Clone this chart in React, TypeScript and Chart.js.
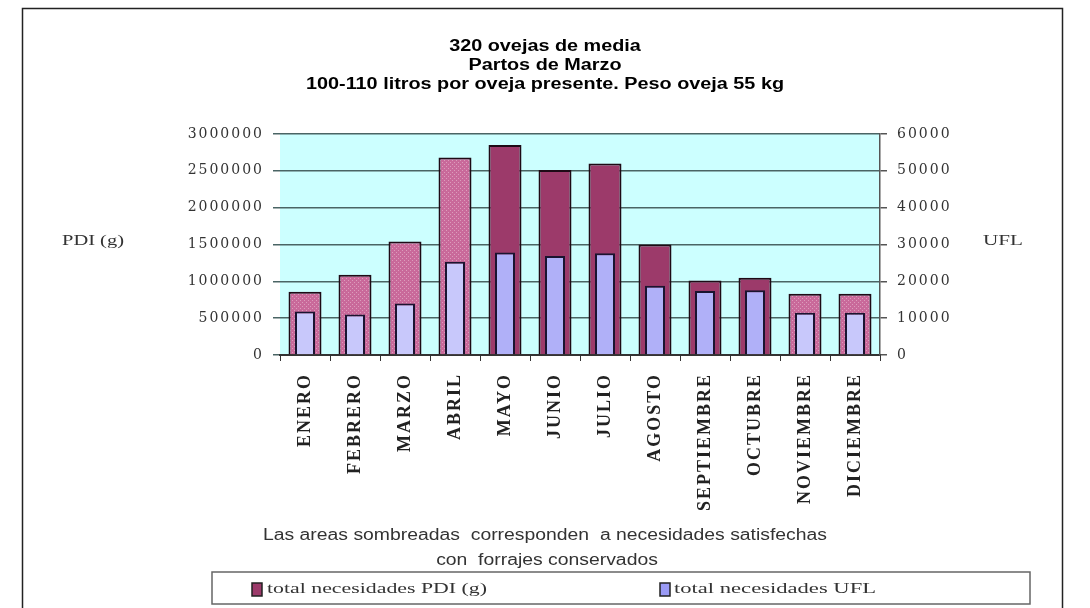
import React, { useEffect, useRef } from "react";
import { Chart, registerables } from "chart.js";

Chart.register(...registerables);

// ---- data ----
const months = [
  "ENERO", "FEBRERO", "MARZO", "ABRIL", "MAYO", "JUNIO",
  "JULIO", "AGOSTO", "SEPTIEMBRE", "OCTUBRE", "NOVIEMBRE", "DICIEMBRE",
];
const pdiValues = [860000, 1090000, 1540000, 2680000, 2850000, 2510000, 2600000, 1500000, 1010000, 1050000, 830000, 830000];
const uflValues = [11800, 11000, 14000, 25300, 27800, 26900, 27600, 18800, 17400, 17600, 11500, 11500];
// months whose needs are covered with conserved forage (shaded areas)
const shadedMonths = [true, true, true, true, false, false, false, false, false, false, true, true];

const titleLines = [
  "320 ovejas de media",
  "Partos de Marzo",
  "100-110 litros por oveja presente. Peso oveja 55 kg",
];
const footnoteLines = [
  "Las areas sombreadas  corresponden  a necesidades satisfechas",
  "con  forrajes conservados",
];
const pdiLabel = "total necesidades PDI (g)";
const uflLabel = "total necesidades UFL";
const leftAxisTitle = "PDI (g)";
const rightAxisTitle = "UFL";
const leftMax = 3000000;
const leftStep = 500000;
const rightMax = 60000;
const rightStep = 10000;

// ---- styles ----
const pdiDark = "#9c3a6a";
const pdiLightBase = "#c9699a";
const pdiLightDot = "#dc9cbc";
const uflDark = "#b0b0f8";
const uflLight = "#c8c8fb";
const plotBg = "#ccffff";

function makePattern(): CanvasPattern | string {
  const c = document.createElement("canvas");
  c.width = 4;
  c.height = 4;
  const x = c.getContext("2d");
  if (!x) return pdiLightBase;
  x.fillStyle = pdiLightBase;
  x.fillRect(0, 0, 4, 4);
  x.fillStyle = pdiLightDot;
  x.fillRect(0, 0, 1, 1);
  x.fillRect(2, 2, 1, 1);
  const p = x.createPattern(c, "repeat");
  return p || pdiLightBase;
}

function drawStretched(
  ctx: CanvasRenderingContext2D,
  text: string,
  font: string,
  color: string,
  x: number,
  y: number,
  sx: number,
  align: CanvasTextAlign
) {
  ctx.save();
  ctx.font = font;
  ctx.fillStyle = color;
  ctx.textBaseline = "middle";
  ctx.textAlign = align;
  ctx.translate(x, y);
  ctx.scale(sx, 1);
  ctx.fillText(text, 0, 0);
  ctx.restore();
}

function fitScale(ctx: CanvasRenderingContext2D, text: string, font: string, target: number) {
  ctx.save();
  ctx.font = font;
  (ctx as any).letterSpacing = "0px";
  const w = ctx.measureText(text).width;
  ctx.restore();
  return w > 0 ? target / w : 1;
}

const decorPlugin = {
  id: "decor",
  beforeDraw(chart: any) {
    const { ctx, chartArea: a } = chart;
    ctx.save();
    ctx.fillStyle = "#ffffff";
    ctx.fillRect(0, 0, chart.width, chart.height);
    ctx.fillStyle = plotBg;
    ctx.fillRect(a.left, a.top, a.right - a.left, a.bottom - a.top);
    ctx.restore();
    (ctx as any).letterSpacing = "2px";
  },
  beforeDatasetsDraw(chart: any) {
    (chart.ctx as any).letterSpacing = "0px";
  },
  afterDraw(chart: any) {
    const ctx: CanvasRenderingContext2D = chart.ctx;
    (ctx as any).letterSpacing = "0px";

    // outer frame
    ctx.save();
    ctx.strokeStyle = "#222";
    ctx.lineWidth = 1.5;
    ctx.strokeRect(22.5, 8.5, 1040, 700);
    ctx.restore();

    // title
    const tFont = 'bold 16px "Liberation Sans", Arial, sans-serif';
    const tsx = fitScale(ctx, titleLines[2], tFont, 478);
    titleLines.forEach((t, i) => drawStretched(ctx, t, tFont, "#000", 545, 47 + i * 19, tsx, "center"));

    // axis titles
    const aFont = '15px "Liberation Serif", "Times New Roman", serif';
    drawStretched(ctx, leftAxisTitle, aFont, "#333", 62, 241, fitScale(ctx, leftAxisTitle, aFont, 62), "left");
    drawStretched(ctx, rightAxisTitle, aFont, "#333", 983, 241, fitScale(ctx, rightAxisTitle, aFont, 40), "left");

    // footnote
    const fFont = '16px "Liberation Sans Narrow", "Liberation Sans", sans-serif';
    const fsx = fitScale(ctx, footnoteLines[0], fFont, 564);
    drawStretched(ctx, footnoteLines[0], fFont, "#333", 545, 536, fsx, "center");
    drawStretched(ctx, footnoteLines[1], fFont, "#333", 547, 561, fsx, "center");

    // legend box
    ctx.save();
    ctx.strokeStyle = "#666";
    ctx.lineWidth = 1.5;
    ctx.strokeRect(212, 572, 818, 32);
    ctx.restore();

    const lFont = '14px "Liberation Serif", "Times New Roman", serif';
    const items = [
      { text: pdiLabel, color: pdiDark, sq: 252, tx: 267, w: 220 },
      { text: uflLabel, color: "#9a9af5", sq: 660, tx: 674, w: 202 },
    ];
    items.forEach((it) => {
      ctx.save();
      ctx.fillStyle = it.color;
      ctx.fillRect(it.sq, 583, 10, 13);
      ctx.strokeStyle = "#222";
      ctx.lineWidth = 1.5;
      ctx.strokeRect(it.sq, 583, 10, 13);
      ctx.restore();
      drawStretched(ctx, it.text, lFont, "#333", it.tx, 589, fitScale(ctx, it.text, lFont, it.w), "left");
    });
  },
};

export default function App() {
  const ref = useRef<HTMLCanvasElement | null>(null);

  useEffect(() => {
    if (!ref.current) return;
    const pattern = makePattern();
    const pdiColors = shadedMonths.map((s) => (s ? pattern : pdiDark));
    const uflColors = shadedMonths.map((s) => (s ? uflLight : uflDark));

    const chart = new Chart(ref.current, {
      type: "bar",
      data: {
        labels: months,
        datasets: [
          {
            label: pdiLabel,
            data: pdiValues,
            yAxisID: "yL",
            backgroundColor: pdiColors as any,
            borderColor: "#1e0a16",
            borderWidth: 2,
            barPercentage: 0.66,
            categoryPercentage: 1,
            grouped: false,
            order: 2,
          } as any,
          {
            label: uflLabel,
            data: uflValues,
            yAxisID: "yR",
            backgroundColor: uflColors,
            borderColor: "#1a1430",
            borderWidth: 2,
            barPercentage: 0.4,
            categoryPercentage: 1,
            grouped: false,
            order: 1,
          } as any,
        ],
      },
      options: {
        responsive: false,
        animation: false,
        devicePixelRatio: 1,
        layout: { padding: { top: 134, left: 0, right: 0, bottom: 0 } },
        plugins: {
          legend: { display: false },
          title: { display: false },
          tooltip: { enabled: false },
        },
        scales: {
          x: {
            grid: { display: true, drawOnChartArea: false, drawTicks: true, tickLength: 6, color: "#333", offset: true },
            border: { display: true, color: "#333", width: 2 },
            ticks: {
              autoSkip: false,
              minRotation: 90,
              maxRotation: 90,
              padding: 12,
              color: "#222",
              font: { family: '"Liberation Serif", "Times New Roman", serif', size: 18, weight: "bold" },
            },
            afterFit: (s: any) => {
              s.height = 253;
            },
          },
          yL: {
            type: "linear",
            position: "left",
            min: 0,
            max: leftMax,
            ticks: {
              stepSize: leftStep,
              padding: 9,
              color: "#333",
              font: { family: '"DejaVu Serif", serif', size: 14 },
              callback: (v: any) => String(v),
            },
            grid: { color: "#4a6464", lineWidth: 1.5, tickLength: 7, drawTicks: true },
            border: { display: false },
            afterFit: (s: any) => {
              s.width = 280;
            },
          },
          yR: {
            type: "linear",
            position: "right",
            min: 0,
            max: rightMax,
            ticks: {
              stepSize: rightStep,
              padding: 10,
              color: "#333",
              font: { family: '"DejaVu Serif", serif', size: 14 },
              callback: (v: any) => String(v),
            },
            grid: { drawOnChartArea: false, tickLength: 7, color: "#555", lineWidth: 1.5 },
            border: { display: true, color: "#555", width: 1.5 },
            afterFit: (s: any) => {
              s.width = 210;
            },
          },
        },
      } as any,
      plugins: [decorPlugin as any],
    });
    return () => chart.destroy();
  }, []);

  return (
    <div style={{ position: "absolute", left: 0, top: 0, width: 1090, height: 608, background: "#fff" }}>
      <canvas ref={ref} width={1090} height={608} style={{ display: "block" }} />
    </div>
  );
}
